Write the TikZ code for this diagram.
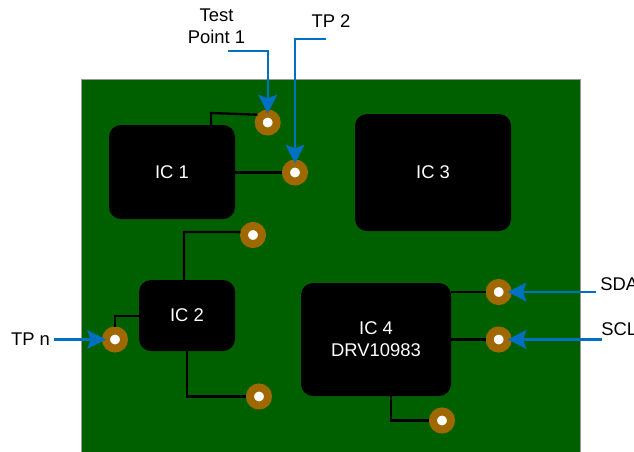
\documentclass[tikz,border=0pt]{standalone}
\usepackage{fontspec}
\setmainfont{Liberation Sans}
\usetikzlibrary{arrows.meta}
\definecolor{boardgreen}{HTML}{006000}
\definecolor{padbrown}{HTML}{A06800}
\definecolor{probeblue}{HTML}{0070C0}
\tikzset{
  chip/.style={fill=black,rounded corners=9pt,inner sep=0pt,outer sep=0pt,text=white,align=center,
    font=\fontsize{13.8}{16.5}\selectfont},
  pad/.style={circle,draw=padbrown,fill=white,line width=6pt,minimum size=13.5pt,inner sep=0pt},
  trace/.style={draw=black,line width=1.75pt},
  probe/.style={draw=probeblue,line width=1.7pt,shorten >=-3pt,
    -{Stealth[length=14pt,width=14pt,inset=2.5pt]}},
  lbl/.style={text=black,inner sep=0pt,align=center,font=\fontsize{13.8}{16.5}\selectfont},
}
\begin{document}
\begin{tikzpicture}[x=0.75pt,y=-0.75pt]
\clip (0,0) rectangle (634,451);
\fill[white] (0,0) rectangle (634,451);
\draw[draw=black!40,fill=boardgreen,line width=0.6pt] (81.5,79) rectangle (580,470);
% chips
\node[chip,minimum width=94.5pt,minimum height=70.5pt] (ic1) at (172,172) {IC 1};
\node[chip,minimum width=117pt,minimum height=87.75pt] (ic3) at (433,172.5) {IC 3};
\node[chip,minimum width=72pt,minimum height=53.25pt] (ic2) at (187,315.5) {IC 2};
\node[chip,minimum width=112.5pt,minimum height=84.75pt] (ic4) at (376,339.5) {IC 4\\DRV10983};
% pads
\node[pad] (p1) at (267.7,122.5) {};
\node[pad] (p2) at (295,172.5) {};
\node[pad] (p3) at (253,235) {};
\node[pad] (p4) at (115,339.5) {};
\node[pad] (p5) at (259,396.5) {};
\node[pad] (p6) at (498.7,292) {};
\node[pad] (p7) at (498.7,339.5) {};
\node[pad] (p8) at (442,420.5) {};
% trace bends
\coordinate (b1) at (211,113);
\coordinate (b3) at (184,232);
\coordinate (b4) at (115,316);
% traces
\draw[trace] (b1 |- ic1.north) -- (b1) -- (p1.143);
\draw[trace] (ic1.east |- p2) -- (p2);
\draw[trace] (b3 |- ic2.north) -- (b3) -- (p3.167);
\draw[trace] (ic2.west |- b4) -- (b4) -- (p4);
\draw[trace] (ic2.south) |- (p5);
\draw[trace] (ic4.east |- p6) -- (p6);
\draw[trace] (ic4.east |- p7) -- (p7);
\draw[trace] ([xshift=11.25pt]ic4.south) |- (p8);
% labels
\node[lbl] (l1) at (216.5,26) {Test\\Point 1};
\node[lbl] (l2) at (331,21) {TP 2};
\node[lbl,anchor=west] (l3) at (600,284) {SDA};
\node[lbl,anchor=west] (l4) at (601,329) {SCL};
\node[lbl] (l5) at (30.5,339) {TP n};
% probe free ends
\coordinate (s1) at (228,51);
\coordinate (s2) at (326,39);
\coordinate (s3) at (596,292);
\coordinate (s4) at (602,339.5);
\coordinate (s5) at (54,339.5);
% probes
\draw[probe] (s1) -| (p1);
\draw[probe] (s2) -| (p2);
\draw[probe] (s3) -- (p6);
\draw[probe] (s4) -- (p7);
\draw[probe] (s5) -- (p4);
\end{tikzpicture}
\end{document}
